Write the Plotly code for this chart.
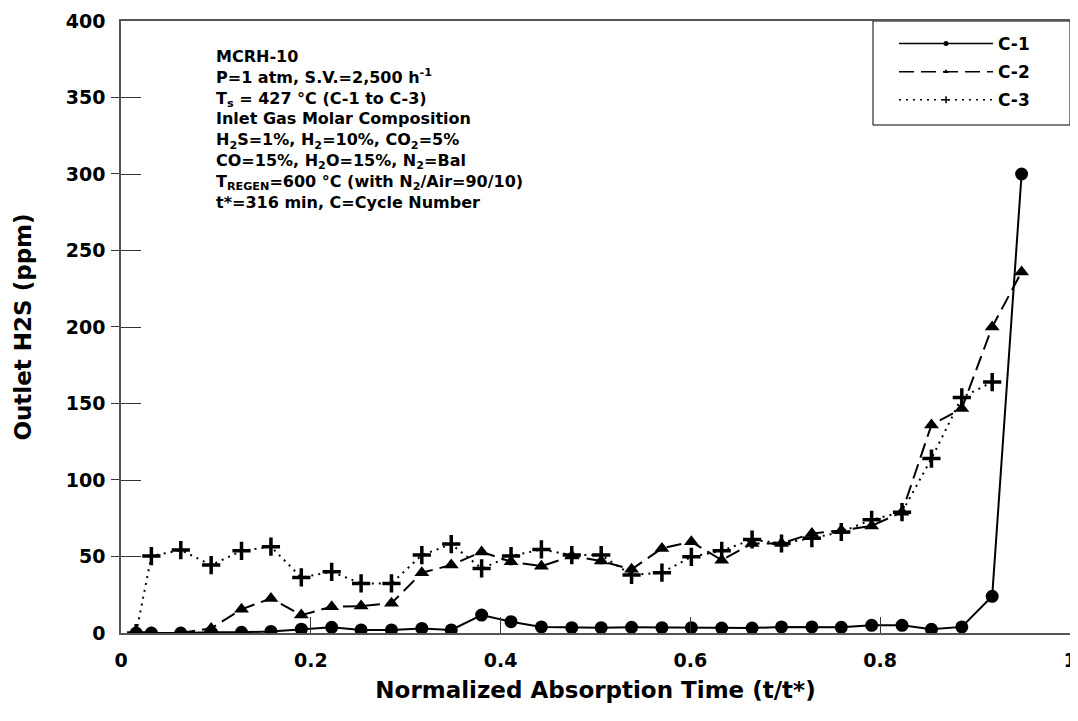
import plotly.graph_objects as go

# Normalized absorption time (t/t*), t* = 316 min
x_c1 = [0.016, 0.032, 0.063, 0.095, 0.127, 0.158, 0.190, 0.222, 0.253, 0.285,
        0.317, 0.348, 0.380, 0.411, 0.443, 0.475, 0.506, 0.538, 0.570, 0.601,
        0.633, 0.665, 0.696, 0.728, 0.759, 0.791, 0.823, 0.854, 0.886, 0.918, 0.949]
y_c1 = [0, 0, 0, 0.5, 0.5, 1, 2.5, 3.7, 2, 2,
        3, 2, 11.7, 7.4, 4, 3.5, 3.5, 3.7, 3.5, 3.5,
        3.2, 3.2, 4, 4, 3.7, 5, 5, 2.4, 4, 24, 300]

x_c2 = x_c1
y_c2 = [0, 0, 0, 3, 15.5, 22.6, 11.7, 17.2, 17.6, 19.4,
        39.4, 44.4, 53, 46.6, 43.7, 50.3, 47, 41.6, 55.3, 59.6,
        47.6, 58.5, 58.5, 65, 67, 70, 79, 136, 146.7, 200, 236]

x_c3 = x_c1[:30]
y_c3 = [0, 50.3, 54.2, 44.4, 53.7, 56.4, 36.3, 40, 32.4, 32.4,
        50.9, 58.1, 42.2, 50.3, 54.6, 50.9, 50.9, 37.9, 39.4, 49.8,
        53.7, 61.1, 58.5, 62, 66, 74, 79, 114, 154, 164]

series_names = ["C-1", "C-2", "C-3"]
x_ticks = [0, 0.2, 0.4, 0.6, 0.8, 1]
x_ticklabels = ["0", "0.2", "0.4", "0.6", "0.8", "1"]
y_ticks = [0, 50, 100, 150, 200, 250, 300, 350, 400]

info_lines = [
    "MCRH-10",
    "P=1 atm, S.V.=2,500 h<sup>-1</sup>",
    "T<sub>s</sub> = 427 °C (C-1 to C-3)",
    "Inlet Gas Molar Composition",
    "H<sub>2</sub>S=1%, H<sub>2</sub>=10%, CO<sub>2</sub>=5%",
    "CO=15%, H<sub>2</sub>O=15%, N<sub>2</sub>=Bal",
    "T<sub>REGEN</sub>=600 °C (with N<sub>2</sub>/Air=90/10)",
    "t*=316 min, C=Cycle Number",
]

FONT = "DejaVu Sans, Liberation Sans, Arial, sans-serif"
BLK = "black"
AX = "#555555"

# The page body has an 8px margin, so the figure is drawn 8px right/down
# of the window origin; size it so it fills the remaining window.
OFF = 8
W, H = 1078 - OFF, 721 - OFF
ML, MR, MT, MB = 121 - OFF, 8, 21 - OFF, 88
PW, PH = W - ML - MR, H - MT - MB


def px_x(px):
    """window px -> paper x"""
    return (px - OFF - ML) / PW


def px_y(py):
    """window px -> paper y"""
    return (H - MB - (py - OFF)) / PH


fig = go.Figure()

styles = [
    dict(dash="solid", symbol="circle"),
    dict(dash="15px,7px", symbol="triangle-up"),
    dict(dash="2px,5px", symbol="cross-thin"),
]
data = [(x_c1, y_c1), (x_c2, y_c2), (x_c3, y_c3)]

for (xs, ys), st, name in zip(data, styles, series_names):
    marker = dict(symbol=st["symbol"], size=13, color=BLK)
    if st["symbol"] == "cross-thin":
        marker["line"] = dict(color=BLK, width=3.5)
    fig.add_trace(go.Scatter(
        x=xs, y=ys, mode="lines+markers", name=name, showlegend=False,
        line=dict(color=BLK, width=2, dash=st["dash"]),
        marker=marker,
    ))

# legend entries with small markers
for st, name in zip(styles, series_names):
    marker = dict(symbol=st["symbol"], size=5, color=BLK)
    if st["symbol"] == "cross-thin":
        marker["line"] = dict(color=BLK, width=1.5)
    fig.add_trace(go.Scatter(
        x=[None], y=[None], mode="lines+markers", name=name, showlegend=True,
        legendgroup=name,
        line=dict(color=BLK, width=1.5, dash=st["dash"]),
        marker=marker,
    ))

fig.add_annotation(
    x=px_x(214), y=px_y(45), xref="paper", yref="paper",
    xanchor="left", yanchor="top", align="left", showarrow=False,
    text="<br>".join(info_lines),
    font=dict(family=FONT, size=16, color=BLK, weight="bold"),
)

# legend frame
fig.add_shape(type="rect", xref="paper", yref="paper",
              x0=px_x(873), x1=1.0, y0=px_y(125), y1=1.0,
              line=dict(color=BLK, width=1), fillcolor="white", layer="below")

axis_font = dict(family=FONT, size=19, color=BLK, weight="bold")
title_font = dict(family=FONT, size=23, color=BLK, weight="bold")

# short outside stubs at the y tick positions (offset imperceptibly so they
# are not merged with the major inside ticks)
y_stub_vals = [v + 0.01 for v in y_ticks]

fig.update_layout(
    width=W, height=H,
    margin=dict(l=ML, r=MR, t=MT, b=MB, autoexpand=False),
    paper_bgcolor="white", plot_bgcolor="white",
    font=dict(family=FONT, color=BLK, weight="bold"),
    xaxis=dict(
        range=[0, 1], tickmode="array", tickvals=x_ticks, ticktext=x_ticklabels,
        ticks="inside", ticklen=16, tickcolor="#333", tickwidth=1,
        ticklabelstandoff=9, automargin=False,
        showgrid=False, zeroline=False, showline=True, linecolor=AX, linewidth=1.5,
        mirror=True, tickfont=axis_font,
        title=dict(text="Normalized Absorption Time (t/t*)", font=title_font, standoff=12),
    ),
    yaxis=dict(
        range=[0, 400], tickmode="array", tickvals=y_ticks,
        ticks="inside", ticklen=20, tickcolor="#333", tickwidth=1, automargin=False,
        ticklabelstandoff=10,
        minor=dict(tickmode="array", tickvals=y_stub_vals, ticks="outside",
                   ticklen=8, tickcolor="#333", tickwidth=1, showgrid=False),
        showgrid=False, zeroline=False, showline=True, linecolor=AX, linewidth=1.5,
        mirror=True, tickfont=axis_font,
        title=dict(text="Outlet H2S (ppm)", font=title_font, standoff=28),
    ),
    legend=dict(
        x=px_x(894), y=px_y(26), xanchor="left", yanchor="top",
        bgcolor="rgba(0,0,0,0)", borderwidth=0,
        font=dict(family=FONT, size=17, color=BLK, weight="bold"),
        itemwidth=94, tracegroupgap=3, traceorder="grouped",
    ),
    showlegend=True,
)

fig.write_html("out.html")
